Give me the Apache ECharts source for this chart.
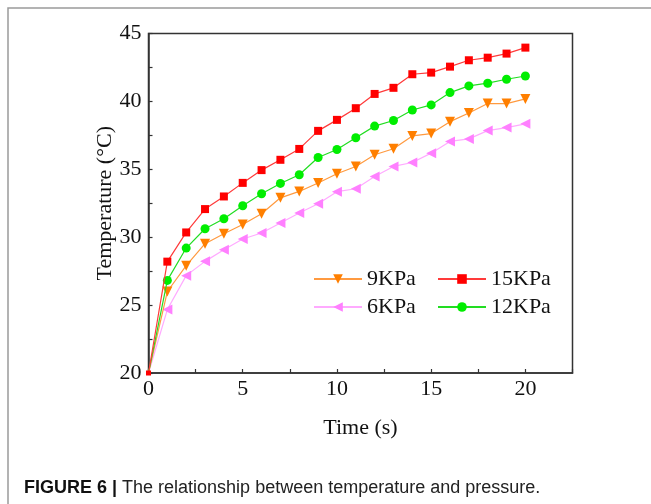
<!DOCTYPE html>
<html><head><meta charset="utf-8">
<script src="https://cdn.jsdelivr.net/npm/echarts@6/dist/echarts.min.js"></script>
<style>html,body{margin:0;padding:0;background:#fff}#c{width:651px;height:504px}</style>
</head><body><div id="c"></div>
<script>
const times = [0,1,2,3,4,5,6,7,8,9,10,11,12,13,14,15,16,17,18,19,20];
const kpa9  = [20, 26.0, 27.9, 29.52, 30.26, 30.94, 31.73, 32.9, 33.37, 33.99, 34.67, 35.21, 36.07, 36.51, 37.46, 37.63, 38.51, 39.15, 39.84, 39.84, 40.18];
const kpa15 = [20, 28.2, 30.35, 32.07, 33.0, 34.0, 34.94, 35.7, 36.5, 37.83, 38.64, 39.5, 40.55, 41.0, 42.0, 42.12, 42.56, 43.03, 43.22, 43.52, 43.96];
const kpa6  = [20, 24.67, 27.17, 28.22, 29.08, 29.87, 30.31, 31.04, 31.78, 32.46, 33.35, 33.57, 34.47, 35.21, 35.5, 36.19, 37.05, 37.24, 37.85, 38.07, 38.35];
const kpa12 = [20, 26.82, 29.2, 30.62, 31.36, 32.32, 33.2, 33.96, 34.6, 35.87, 36.46, 37.32, 38.18, 38.59, 39.37, 39.74, 40.65, 41.14, 41.34, 41.63, 41.87];
const seriesNames = ['9KPa', '15KPa', '6KPa', '12KPa'];
const xTitle = 'Time (s)';
const yTitle = 'Temperature (°C)';
const captionBold = 'FIGURE 6 | ';
const captionText = 'The relationship between temperature and pressure.';

const serif = 'Liberation Serif, Times New Roman, serif';
const pairs = (arr, firstSize) => times.map((t, i) => i === 0
  ? {value: [t, arr[i]], symbolSize: firstSize}
  : [t, arr[i]]);

const chart = echarts.init(document.getElementById('c'), null, {renderer: 'canvas'});
function mk(name, data, symbol, size, rot, mColor, lColor, z, firstSize) {
  return {
    name, type: 'line', data: pairs(data, firstSize), symbol, symbolSize: size, symbolRotate: rot,
    showAllSymbol: true, clip: true, z,
    itemStyle: {color: mColor, borderWidth: 0},
    lineStyle: {color: lColor, width: 1.2},
    emphasis: {disabled: true}
  };
}
chart.setOption({
  animation: false,
  backgroundColor: '#fff',
  grid: {left: 148.5, right: 78.5, top: 33.5, bottom: 131, show: true, borderColor: '#333', borderWidth: 1.5, backgroundColor: 'transparent'},
  xAxis: {
    type: 'value', min: 0, max: 22.5, interval: 2.5,
    name: xTitle, nameLocation: 'middle', nameGap: 44,
    nameTextStyle: {fontFamily: serif, fontSize: 22, color: '#111'},
    axisLine: {show: true, lineStyle: {color: '#333', width: 1.5}},
    axisTick: {show: true, inside: true, length: 4, lineStyle: {color: '#333', width: 1.2}},
    splitLine: {show: false},
    axisLabel: {fontFamily: serif, fontSize: 22, color: '#111', margin: 5,
      formatter: v => (Math.abs(v % 5) < 1e-9 && v <= 20) ? String(v) : ''}
  },
  yAxis: {
    type: 'value', min: 20, max: 45, interval: 2.5,
    name: yTitle, nameLocation: 'middle', nameGap: 32, nameMoveOverlap: false,
    nameTextStyle: {fontFamily: serif, fontSize: 22, color: '#111'},
    axisLine: {show: true, lineStyle: {color: '#333', width: 1.5}},
    axisTick: {show: true, inside: true, length: 4, lineStyle: {color: '#333', width: 1.2}},
    splitLine: {show: false},
    axisLabel: {fontFamily: serif, fontSize: 22, color: '#111', margin: 7,
      formatter: v => (Math.abs(v % 5) < 1e-9) ? String(v) : ''}
  },
  legend: [
    {data: ['9KPa', '6KPa'], orient: 'vertical', left: 313, top: 268, padding: 0, itemWidth: 48, itemHeight: 12, itemGap: 6,
     textStyle: {fontFamily: serif, fontSize: 22, color: '#111'}, selectedMode: false},
    {data: ['15KPa', '12KPa'], orient: 'vertical', left: 437, top: 268, padding: 0, itemWidth: 48, itemHeight: 12, itemGap: 6,
     textStyle: {fontFamily: serif, fontSize: 22, color: '#111'}, selectedMode: false}
  ],
  series: [
    mk('9KPa', kpa9, 'triangle', 10, 180, '#ff7f00', '#ff9a40', 3, 0),
    mk('6KPa', kpa6, 'triangle', 10, 90, '#ff80ff', '#ffaaff', 2, 0),
    mk('12KPa', kpa12, 'circle', 9, 0, '#00ee00', '#22dd22', 4, 0),
    mk('15KPa', kpa15, 'rect', 8, 0, '#ff0000', '#ff3a3a', 5, 5)
  ],
  graphic: [
    {type: 'polyline', shape: {points: [[8, 504], [8, 8], [651, 8]]}, style: {stroke: '#9a9a9a', lineWidth: 1.5, fill: null}, silent: true},
    {type: 'text', left: 24, top: 479, silent: true,
     style: {text: '{b|' + captionBold + '}{n|' + captionText + '}',
       rich: {b: {fontFamily: 'Liberation Sans, Arial, sans-serif', fontWeight: 'bold', fontSize: 18, fill: '#111'},
              n: {fontFamily: 'Liberation Sans, Arial, sans-serif', fontSize: 18, fill: '#222'}}}}
  ]
});
</script>
</body></html>
